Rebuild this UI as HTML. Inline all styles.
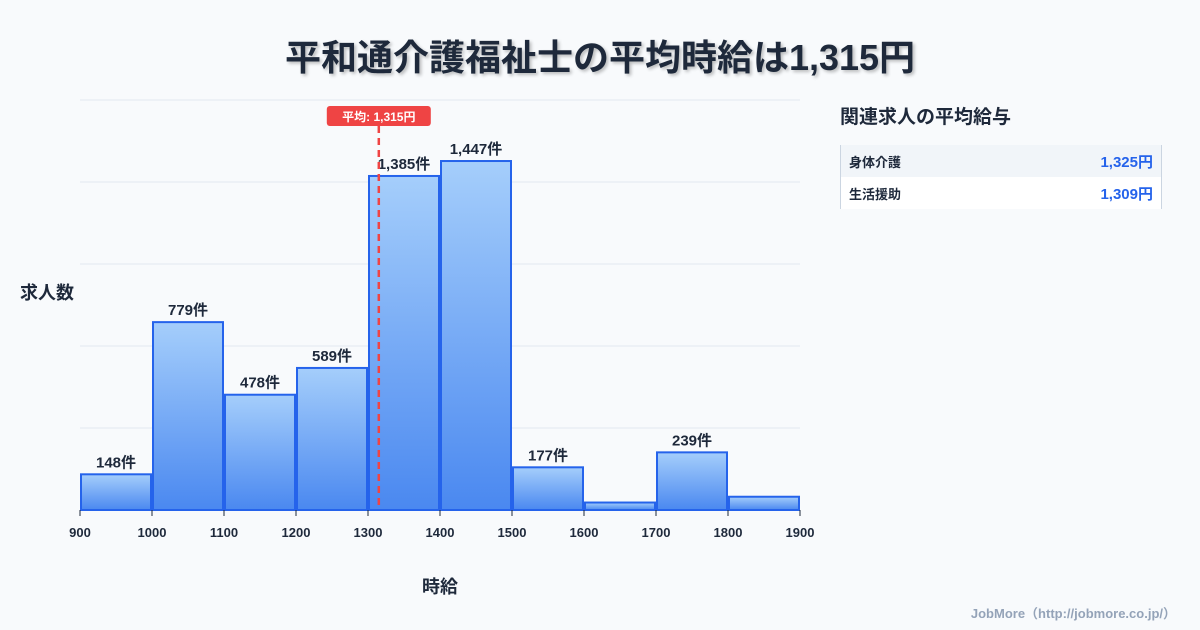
<!DOCTYPE html>
<html><head><meta charset="utf-8"><style>
body{margin:0;width:1200px;height:630px;background:#f8fafc;font-family:"Liberation Sans","Noto Sans CJK JP",sans-serif;overflow:hidden;position:relative;color:#1e293b}
.title{position:absolute;top:29px;left:0;width:1200px;text-align:center;font-size:36px;font-weight:bold;color:#1e293b;text-shadow:2px 2px 3px rgba(0,0,0,0.25)}
.side{position:absolute;left:840px;top:102px;font-size:19px;font-weight:bold}
.tbl{position:absolute;left:840px;top:145px;width:320px;border-left:1px solid #cbd5e1;border-right:1px solid #cbd5e1;font-size:13px;font-weight:bold}
.row{height:32px;display:flex;justify-content:space-between;align-items:center;padding:0 8px}
.row span:last-child{color:#2563eb;font-size:15px}
.foot{position:absolute;right:24px;bottom:8px;font-size:13px;color:#94a3b8;font-weight:bold}
</style></head><body>
<div class="title">平和通介護福祉士の平均時給は1,315円</div>
<div class="side">関連求人の平均給与</div>
<div class="tbl">
<div class="row" style="background:#f1f5f9"><span>身体介護</span><span>1,325円</span></div>
<div class="row" style="background:#fff"><span>生活援助</span><span>1,309円</span></div>
</div>
<div class="foot">JobMore（http://jobmore.co.jp/）</div>
<svg id="c" width="1200" height="630" style="position:absolute;left:0;top:0">
<defs><linearGradient id="g" x1="0" y1="0" x2="0" y2="1"><stop offset="0" stop-color="#a5cefb"/><stop offset="1" stop-color="#4a88f0"/></linearGradient></defs>
</svg>
<script>
const binStarts=[900,1000,1100,1200,1300,1400,1500,1600,1700,1800];
const counts=[148,779,478,589,1385,1447,177,31,239,55];
const showLabel=[true,true,true,true,true,true,true,false,true,false];
const xTicks=[900,1000,1100,1200,1300,1400,1500,1600,1700,1800,1900];
const meanValue=1315;
const meanLabel="平均: 1,315円";
const svg=document.getElementById('c');const NS='http://www.w3.org/2000/svg';
const X=v=>80+(v-900)*0.72;const Y=v=>510-v*(410/1700);
function mk(t,a,p){const e=document.createElementNS(NS,t);for(const k in a)e.setAttribute(k,a[k]);(p||svg).appendChild(e);return e;}
for(let i=0;i<=5;i++){const y=510-i*82;const l=mk('line',{x1:80,x2:800,y1:y,y2:y,stroke:'#e2e8f0','stroke-width':1});

}
binStarts.forEach((s,i)=>{const x0=X(s)+1,x1=X(s+100)-1,y=Y(counts[i]);
const r=mk('rect',{x:x0,y:y,width:x1-x0,height:510-y,fill:'url(#g)',stroke:'#2563eb','stroke-width':2});


if(showLabel[i]){const t=mk('text',{x:(x0+x1)/2,y:y-7,'text-anchor':'middle','font-size':15,'font-weight':'bold',fill:'#1e293b'});t.textContent=counts[i].toLocaleString()+'件';

}});
xTicks.forEach(v=>{const l=mk('line',{x1:X(v),x2:X(v),y1:510,y2:516,stroke:'#1e293b','stroke-width':1});


const t=mk('text',{x:X(v),y:537,'text-anchor':'middle','font-size':13,'font-weight':'bold',fill:'#1e293b'});t.textContent=v;

});
const mx=X(meanValue);
const ml=mk('line',{x1:mx,x2:mx,y1:126,y2:510,stroke:'#ef4444','stroke-width':2.5,'stroke-dasharray':'7,5'});


const mb=mk('rect',{x:mx-52,y:106,width:104,height:20,rx:3,fill:'#ef4444'});


const mt=mk('text',{x:mx,y:121,'text-anchor':'middle','font-size':12,'font-weight':'bold',fill:'#fff'});mt.textContent=meanLabel;


const yt=mk('text',{x:20,y:299,'font-size':18,'font-weight':'bold',fill:'#1e293b'});yt.textContent='求人数';


const xt=mk('text',{x:440,y:593,'text-anchor':'middle','font-size':18,'font-weight':'bold',fill:'#1e293b'});xt.textContent='時給';


</script>
</body></html>
